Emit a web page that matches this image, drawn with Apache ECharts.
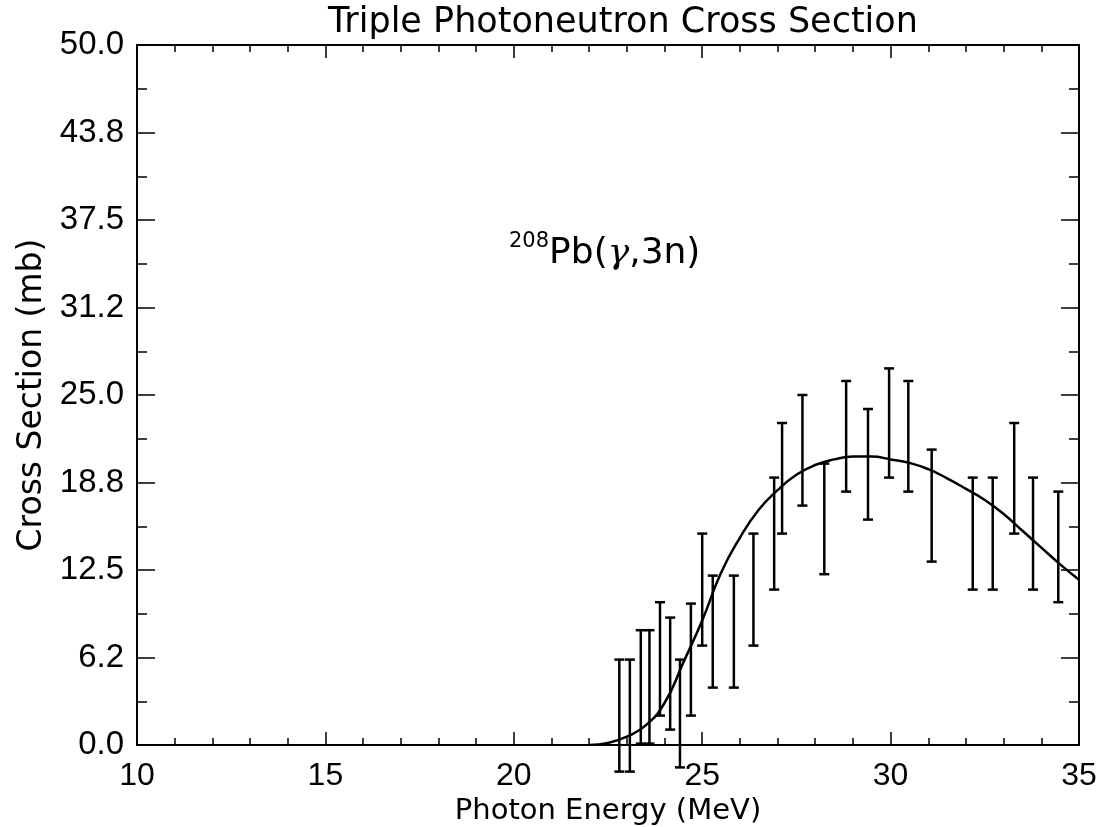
<!DOCTYPE html>
<html>
<head>
<meta charset="utf-8">
<script src="https://cdn.jsdelivr.net/npm/echarts@6/dist/echarts.min.js"></script>
<style>
  html, body { margin: 0; padding: 0; background: #fff; }
  #chart { width: 1098px; height: 827px; }
</style>
</head>
<body>
<div id="chart"></div>
<script>
var energy = [22.80, 23.08, 23.37, 23.60, 23.88, 24.15, 24.41, 24.70, 25.00, 25.28, 25.84, 26.36, 26.91,
              27.12, 27.66, 28.24, 28.82, 29.40, 29.96, 30.47, 31.09, 32.18, 32.71, 33.28, 33.78, 34.45];
var xsLow  = [-1.9, -1.9, 0.1, 0.1, 2.1, 1.1, -1.6, 2.1, 7.1, 4.1, 4.1, 7.1, 11.1,
              15.1, 17.1, 12.2, 18.1, 16.1, 19.1, 18.1, 13.1, 11.1, 11.1, 15.1, 11.1, 10.2];
var xsHigh = [6.1, 6.1, 8.2, 8.2, 10.2, 9.1, 6.1, 10.1, 15.1, 12.1, 12.1, 15.1, 19.1,
              23.0, 25.0, 20.1, 26.0, 24.0, 26.9, 26.0, 21.1, 19.1, 19.1, 23.0, 19.1, 18.1];

// fitted curve, read every 0.5 MeV
var curveE = [22.0, 22.5, 23.0, 23.5, 24.0, 24.5, 25.0, 25.5, 26.0, 26.5, 27.0, 27.5, 28.0, 28.5,
              29.0, 29.5, 30.0, 30.5, 31.0, 31.5, 32.0, 32.5, 33.0, 33.5, 34.0, 34.5, 35.0];
var curveXs = [0, 0.15, 0.6, 1.4, 3.0, 5.9, 8.9, 12.3, 14.8, 16.8, 18.2, 19.3, 20.0, 20.4,
               20.6, 20.6, 20.4, 20.15, 19.7, 19.05, 18.3, 17.5, 16.5, 15.3, 14.1, 12.9, 11.8];

var yTickLabels = ["0.0", "6.2", "12.5", "18.8", "25.0", "31.2", "37.5", "43.8", "50.0"];

var chartDom = document.getElementById("chart");
var myChart = echarts.init(chartDom);
var tickFont = "'Liberation Sans', Arial, sans-serif";
var wide = "'DejaVu Sans', sans-serif";

var barData = energy.map(function (e, i) { return [e, xsLow[i], xsHigh[i]]; });
var lineData = curveE.map(function (e, i) { return [e, curveXs[i]]; });

function xAxisCfg(pos, show) {
  return {
    type: "value", position: pos, min: 10, max: 35, interval: 5,
    name: show ? "Photon Energy (MeV)" : "",
    nameLocation: "middle", nameGap: 46,
    nameTextStyle: { color: "#000", fontSize: 29, fontFamily: wide },
    axisLine: { show: true, onZero: false, lineStyle: { color: "#000", width: 2 } },
    axisTick: { show: true, inside: true, length: 13, lineStyle: { color: "#000", width: 1.5 } },
    minorTick: { show: true, splitNumber: 5, length: 7, lineStyle: { color: "#000", width: 1.5 } },
    axisLabel: { show: show, color: "#000", fontSize: 32, fontFamily: tickFont, margin: 15 },
    splitLine: { show: false }
  };
}

function yAxisCfg(pos, show) {
  return {
    type: "value", position: pos, min: 0, max: 50, interval: 6.25,
    name: show ? "Cross Section (mb)" : "",
    nameLocation: "middle", nameGap: 88,
    nameTextStyle: { color: "#000", fontSize: 33, fontFamily: wide },
    axisLine: { show: true, onZero: false, lineStyle: { color: "#000", width: 2 } },
    axisTick: { show: true, inside: true, length: 18, lineStyle: { color: "#000", width: 1.5 } },
    minorTick: { show: true, splitNumber: 2, length: 10, lineStyle: { color: "#000", width: 1.5 } },
    axisLabel: {
      show: show, color: "#000", fontSize: 33, fontFamily: tickFont, margin: 13,
      formatter: function (v, i) { return yTickLabels[i]; }
    },
    splitLine: { show: false }
  };
}

var option = {
  backgroundColor: "#fff",
  animation: false,
  title: {
    text: "Triple Photoneutron Cross Section",
    left: 618, top: 0, textAlign: "center",
    textStyle: { color: "#000", fontSize: 35, fontWeight: "normal", fontFamily: wide }
  },
  grid: { left: 137, right: 19, top: 45, bottom: 82, outerBoundsMode: "none" },
  xAxis: [xAxisCfg("bottom", true), xAxisCfg("top", false)],
  yAxis: [yAxisCfg("left", true), yAxisCfg("right", false)],
  graphic: [{
    type: "text", left: 509, top: 231,
    style: {
      text: "{sup|208}{main|Pb(}{it|γ}{main|,3n)}",
      rich: {
        sup: { fontSize: 21, fontFamily: wide, fill: "#000", verticalAlign: "top", lineHeight: 36 },
        main: { fontSize: 36, fontFamily: wide, fill: "#000", lineHeight: 46 },
        it: { fontSize: 36, fontFamily: "'DejaVu Serif', serif", fontStyle: "italic", fill: "#000", lineHeight: 46 }
      }
    }
  }],
  series: [
    {
      type: "line",
      data: lineData,
      smooth: true,
      showSymbol: false,
      lineStyle: { color: "#000", width: 2.5 }
    },
    {
      type: "custom",
      clip: false,
      data: barData,
      renderItem: function (params, api) {
        var x = api.value(0);
        var lo = api.coord([x, api.value(1)]);
        var hi = api.coord([x, api.value(2)]);
        var w = 5;
        var st = { stroke: "#000", lineWidth: 2.5 };
        return {
          type: "group",
          children: [
            { type: "line", shape: { x1: lo[0], y1: lo[1], x2: hi[0], y2: hi[1] }, style: st },
            { type: "line", shape: { x1: lo[0] - w, y1: lo[1], x2: lo[0] + w, y2: lo[1] }, style: st },
            { type: "line", shape: { x1: hi[0] - w, y1: hi[1], x2: hi[0] + w, y2: hi[1] }, style: st }
          ]
        };
      }
    }
  ]
};

option && myChart.setOption(option);
</script>
</body>
</html>
